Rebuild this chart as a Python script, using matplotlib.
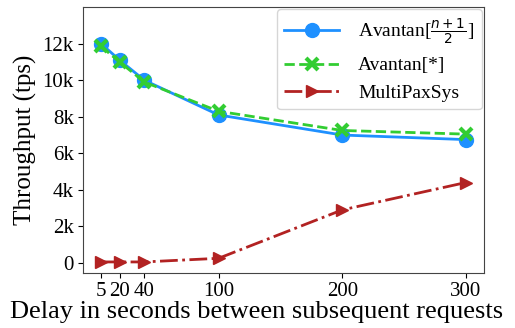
import numpy as np
import matplotlib
matplotlib.use("Agg")
from matplotlib import pyplot as plt

# delay values (seconds) and throughput for each system
delays = [5, 20, 40, 100, 200, 300]
avantan_half = [12000, 11100, 10000, 8100, 7000, 6750]
avantan_all = [11850, 11000, 9900, 8300, 7250, 7050]
multipaxsys = [50, 50, 50, 250, 2900, 4400]

ytick_vals = [0, 2000, 4000, 6000, 8000, 10000, 12000]
ytick_labels = ["0", "2k", "4k", "6k", "8k", "10k", "12k"]

plt.rcParams['font.family'] = ['Liberation Serif', 'DejaVu Serif']

fig = plt.figure(figsize=(5.15, 3.28), dpi=100)
ax = fig.add_axes([0.161, 0.168, 0.779, 0.81])

ax.plot(delays, avantan_half, '-o', color='#1e90ff', lw=2, ms=10,
        label=r'Avantan[$\frac{n+1}{2}$]')
ax.plot(delays, avantan_all, '--x', color='#32cd32', lw=2, ms=9, mew=3,
        label='Avantan[*]')
ax.plot(delays, multipaxsys, '-.>', color='#b22222', lw=2, ms=9,
        label='MultiPaxSys')

ax.set_xticks(delays)
ax.set_xticklabels(["5", "20", "40", "100", "200", "300"])
ax.set_yticks(ytick_vals)
ax.set_yticklabels(ytick_labels)
ax.set_ylim(-550, 14000)
ax.tick_params(labelsize=15, pad=3)

for s in ax.spines.values():
    s.set_color('#444444')

ax.set_xlabel("Delay in seconds between subsequent requests", fontsize=19)
ax.xaxis.set_label_coords(0.434, -0.104)
ax.set_ylabel("Throughput (tps)", fontsize=18, labelpad=4)
ax.legend(loc='upper right', fontsize=14, handlelength=2.8, handletextpad=1.0,
          borderaxespad=0.1)

fig.savefig("out.png", dpi=100)
